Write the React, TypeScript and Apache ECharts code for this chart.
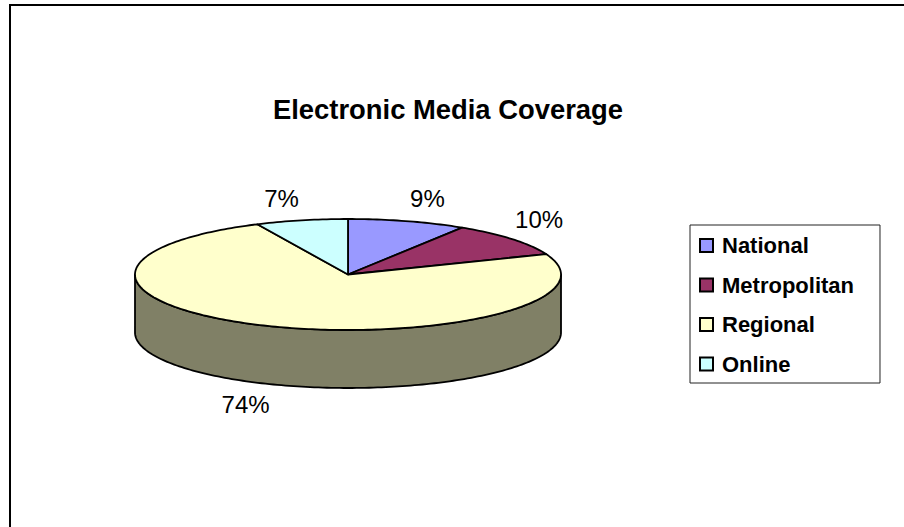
import React, { useEffect, useRef } from "react";
import * as echarts from "echarts";

const categories = ["National", "Metropolitan", "Regional", "Online"];
const shares = [9, 10, 74, 7];
const percentLabels = ["9%", "10%", "74%", "7%"];
const topColors = ["#9999FF", "#993366", "#FFFFCC", "#CCFFFF"];
const sideColors = ["#4C4C80", "#4C1933", "#808066", "#668080"];

// Disc geometry: elliptical top face with a visible rim below it.
const CX = 348;
const CY = 274.5;
const RX = 213;
const RY = 55.5;
const DEPTH = 58;
const EDGE_WIDTH = 1.8;
const FONT = "'Liberation Sans', Arial, sans-serif";
const total = shares.reduce((a, b) => a + b, 0);

// Distance of each value label from the outer edge of its slice.
const labelOffsets = [
  [20, -23],
  [27, -20],
  [-24, 78],
  [-20, -22],
];

// Angles run clockwise from twelve o'clock.
const px = (t: number) => CX + RX * Math.sin(t);
const py = (t: number) => CY - RY * Math.cos(t);

function arcPoints(a: number, b: number, dy = 0): number[][] {
  const n = Math.max(2, Math.ceil(Math.abs(b - a) / 0.02));
  const pts: number[][] = [];
  for (let i = 0; i <= n; i++) {
    const t = a + ((b - a) * i) / n;
    pts.push([px(t), py(t) + dy]);
  }
  return pts;
}

const renderSlice = (index: number) => () => {
  const before = shares.slice(0, index).reduce((a, b) => a + b, 0);
  const start = (before / total) * Math.PI * 2;
  const end = ((before + shares[index]) / total) * Math.PI * 2;
  const mid = (start + end) / 2;
  const children: any[] = [];

  // Rim: only the part of the slice on the front half of the disc shows.
  const sideStart = Math.max(start, Math.PI / 2);
  const sideEnd = Math.min(end, (Math.PI * 3) / 2);
  if (sideEnd > sideStart) {
    const outline = [...arcPoints(sideStart, sideEnd), ...arcPoints(sideEnd, sideStart, DEPTH)];
    children.push({
      type: "polygon",
      shape: { points: outline },
      style: { fill: sideColors[index], stroke: "#000", lineWidth: EDGE_WIDTH, lineJoin: "round" },
    });
  }

  children.push({
    type: "polygon",
    shape: { points: [[CX, CY], ...arcPoints(start, end)] },
    style: { fill: topColors[index], stroke: "#000", lineWidth: EDGE_WIDTH, lineJoin: "round" },
  });

  children.push({
    type: "text",
    style: {
      text: percentLabels[index],
      x: px(mid) + labelOffsets[index][0],
      y: py(mid) + labelOffsets[index][1],
      font: `24px ${FONT}`,
      fill: "#000",
      align: "center",
      verticalAlign: "middle",
    },
  });

  return { type: "group", children };
};

const option: any = {
  animation: false,
  backgroundColor: "#fff",
  title: {
    text: "Electronic Media Coverage",
    left: 443,
    top: 91,
    textAlign: "center",
    textStyle: {
      fontFamily: FONT,
      fontSize: 27.4,
      fontWeight: "bold",
      color: "#000",
    },
  },
  legend: {
    orient: "vertical",
    left: 690,
    top: 225,
    padding: [8, 26, 6.5, 9],
    itemGap: 14.5,
    itemWidth: 13,
    itemHeight: 13,
    borderColor: "#222",
    borderWidth: 1,
    data: categories.map((name) => ({ name, icon: "rect" })),
    textStyle: {
      fontFamily: FONT,
      fontSize: 22,
      fontWeight: "bold",
      color: "#000",
      padding: [0, 0, 0, 4],
      lineHeight: 25,
    },
    selectedMode: false,
  },
  graphic: [
    { type: "line", shape: { x1: 10, y1: 5, x2: 904, y2: 5 }, style: { stroke: "#000", lineWidth: 2 } },
    { type: "line", shape: { x1: 10, y1: 4, x2: 10, y2: 527 }, style: { stroke: "#000", lineWidth: 2 } },
  ],
  series: categories.map((name, i) => ({
    type: "custom",
    name,
    coordinateSystem: "none",
    data: [shares[i]],
    renderItem: renderSlice(i),
    itemStyle: { color: topColors[i], borderColor: "#000", borderWidth: 1.8 },
    silent: true,
  })),
};

export default function App() {
  const ref = useRef<HTMLDivElement>(null);
  useEffect(() => {
    const chart = echarts.init(ref.current!, undefined, { renderer: "svg" });
    chart.setOption(option);
    return () => chart.dispose();
  }, []);
  return <div ref={ref} style={{ position: "fixed", left: 0, top: 0, width: 904, height: 527 }} />;
}
